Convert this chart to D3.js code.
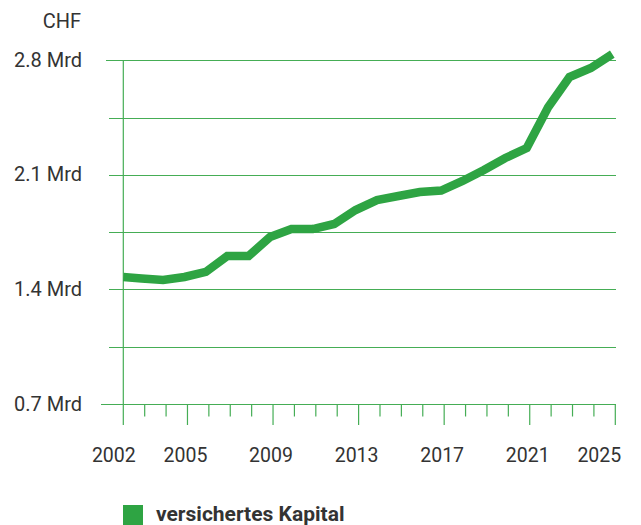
<!DOCTYPE html>
<html>
<head>
<meta charset="utf-8">
<script src="https://cdn.jsdelivr.net/npm/d3@7"></script>
<style>
  html, body { margin: 0; padding: 0; background: #fff; }
  svg { display: block; }
  text { font-family: Roboto, "Noto Sans", sans-serif; fill: #333; }
</style>
</head>
<body>
<svg id="chart" width="641" height="525"></svg>
<script>
const years = [2002,2003,2004,2005,2006,2007,2008,2009,2010,2011,2012,2013,2014,2015,2016,2017,2018,2019,2020,2021,2022,2023,2024,2025];
const kapital = [1.476,1.467,1.458,1.476,1.507,1.604,1.604,1.720,1.769,1.769,1.800,1.885,1.946,1.971,1.995,2.004,2.063,2.130,2.203,2.264,2.513,2.698,2.753,2.838];
const yTicks = [0.7, 1.05, 1.4, 1.75, 2.1, 2.45, 2.8];
const yLabelTicks = [0.7, 1.4, 2.1, 2.8];
const xLabelYears = [2002, 2005, 2009, 2013, 2017, 2021, 2025];
const unitLabel = "CHF";
const seriesName = "versichertes Kapital";

const lineColor = "#2ea443";
const gridColor = "#45ad55";

const svg = d3.select("#chart");
const x = d3.scaleLinear().domain([2002, 2025]).range([123.3, 615.3]);
const y = d3.scaleLinear().domain([0.7, 2.8]).range([404, 60.3]);

// gridlines
svg.append("g").selectAll("line").data(yTicks).join("line")
  .attr("x1", d => d === 2.8 ? 106 : (d === 0.7 ? 101 : 109))
  .attr("x2", 616)
  .attr("y1", d => Math.round(y(d)) + 0.5)
  .attr("y2", d => Math.round(y(d)) + 0.5)
  .attr("stroke", gridColor).attr("stroke-width", 1.2);

// vertical axis
svg.append("line")
  .attr("x1", x(2002)).attr("x2", x(2002))
  .attr("y1", y(2.8)).attr("y2", 425)
  .attr("stroke", gridColor).attr("stroke-width", 1.2);

// x ticks
svg.append("g").selectAll("line").data(years.slice(1)).join("line")
  .attr("x1", d => x(d)).attr("x2", d => x(d))
  .attr("y1", y(0.7))
  .attr("y2", d => xLabelYears.includes(d) ? 425 : 416.5)
  .attr("stroke", gridColor).attr("stroke-width", 1.2);

// y labels
svg.append("g").selectAll("text").data(yLabelTicks).join("text")
  .attr("x", 82).attr("y", d => y(d) + 6.5)
  .attr("text-anchor", "end")
  .attr("font-size", 20)
  .text(d => d3.format(".1f")(d) + " Mrd");

svg.append("text").attr("x", 81).attr("y", 28).attr("text-anchor", "end")
  .attr("font-size", 20).text(unitLabel);

// x labels (first and last kept inside the plot edges)
const first = xLabelYears[0], last = xLabelYears[xLabelYears.length - 1];
svg.append("g").selectAll("text").data(xLabelYears).join("text")
  .attr("x", d => d === first ? x(d) - 9.5 : (d === last ? x(d) - 16 : x(d) - 2))
  .attr("y", 461.5)
  .attr("text-anchor", "middle")
  .attr("font-size", 19.5)
  .text(d => d);

// line
const line = d3.line().x((d, i) => x(years[i]) - (i === 0 ? 0 : 3)).y(d => y(d));
svg.append("path").datum(kapital)
  .attr("d", line)
  .attr("fill", "none")
  .attr("stroke", lineColor)
  .attr("stroke-width", 8.5)
  .attr("stroke-linejoin", "miter");

// legend
svg.append("rect").attr("x", 123).attr("y", 505).attr("width", 20).attr("height", 20).attr("fill", lineColor);
svg.append("text").attr("x", 156).attr("y", 521).attr("font-size", 21).attr("font-weight", "bold").text(seriesName);
</script>
</body>
</html>
